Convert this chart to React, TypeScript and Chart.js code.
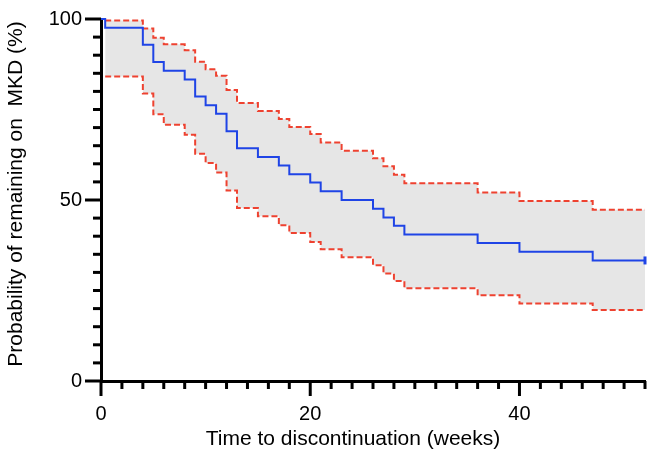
import React, { useEffect, useRef } from "react";
import { Chart, registerables } from "chart.js";

Chart.register(...registerables);

// Kaplan–Meier estimate (time in weeks, survival in %)
const kmTimes = [0, 0.4, 4, 5, 6, 8, 9, 10, 11, 12, 13, 15, 17, 18, 20, 21, 23, 26, 27, 28, 29, 36, 40, 47, 52];
const kmSurvival = [100, 97.6, 92.9, 88.1, 85.7, 83.3, 78.6, 76.2, 73.8, 69.0, 64.3, 61.9, 59.5, 57.1, 54.8, 52.4, 50.0, 47.6, 45.2, 42.9, 40.5, 38.1, 35.7, 33.3, 33.3];

// 95% confidence band
const ciTimes = [0.4, 4, 5, 6, 8, 9, 10, 11, 12, 13, 15, 17, 18, 20, 21, 23, 26, 27, 28, 29, 36, 40, 47, 52];
const ciUpper = [99.6, 97.4, 94.8, 93.0, 91.4, 88.2, 86.1, 84.3, 80.4, 76.8, 74.6, 72.4, 70.2, 68.2, 65.9, 63.6, 61.5, 59.3, 57.0, 54.6, 52.1, 49.7, 47.3, 47.3];
const ciLower = [84.1, 79.4, 73.7, 70.8, 68.0, 62.8, 60.2, 57.6, 52.6, 47.8, 45.5, 43.0, 40.9, 38.4, 36.4, 34.2, 32.0, 29.7, 27.6, 25.6, 23.7, 21.4, 19.6, 19.6];

const xTickLabels = [0, 20, 40];
const yTickLabels = [0, 50, 100];

const X_MIN = 0;
const X_MAX = 52;
const X_MAJOR = 20;
const X_MINOR = 2;
const Y_MIN = 0;
const Y_MAX = 100;
const Y_MAJOR = 50;
const Y_MINOR = 5;

const X_TITLE = "Time to discontinuation (weeks)";
const Y_TITLE = "Probability of remaining on  MKD (%)";

const BLUE = "#1f44e6";
const RED = "#ee4230";
const GREY = "#e6e6e6";
const FONT = "'Liberation Sans', Arial, Helvetica, sans-serif";

const toPts = (xs: number[], ys: number[]) => xs.map((x, i) => ({ x, y: ys[i] }));

const tickPlugin = {
  id: "customTicks",
  afterDraw(chart: any) {
    const { ctx, chartArea } = chart;
    const xs = chart.scales.x;
    const ys = chart.scales.y;
    ctx.save();
    ctx.strokeStyle = "#000";
    ctx.lineWidth = 3;
    ctx.lineCap = "butt";
    for (let v = X_MIN; v <= X_MAX + 1e-9; v += X_MINOR) {
      const px = xs.getPixelForValue(v);
      const len = v % X_MAJOR === 0 ? 15 : 8;
      ctx.beginPath();
      ctx.moveTo(px, chartArea.bottom);
      ctx.lineTo(px, chartArea.bottom + len);
      ctx.stroke();
    }
    for (let v = Y_MIN; v <= Y_MAX + 1e-9; v += Y_MINOR) {
      const py = ys.getPixelForValue(v);
      const len = v % Y_MAJOR === 0 ? 16 : 8;
      ctx.beginPath();
      ctx.moveTo(chartArea.left, py);
      ctx.lineTo(chartArea.left - len, py);
      ctx.stroke();
    }
    // axis titles
    ctx.fillStyle = "#000";
    ctx.font = `21px ${FONT}`;
    ctx.textAlign = "center";
    ctx.textBaseline = "middle";
    const cx = (chartArea.left + chartArea.right) / 2 - 20;
    ctx.fillText(X_TITLE, cx, 439);
    const cy = (chartArea.top + chartArea.bottom) / 2 - 6;
    ctx.translate(16, cy);
    ctx.rotate(-Math.PI / 2);
    ctx.fillText(Y_TITLE, 0, 0);
    ctx.restore();
  },
};

export default function App() {
  const ref = useRef<HTMLCanvasElement | null>(null);

  useEffect(() => {
    if (!ref.current) return;
    const lastIdx = kmTimes.length - 1;
    const chart = new Chart(ref.current, {
      type: "line",
      data: {
        datasets: [
          {
            label: "KM",
            data: toPts(kmTimes, kmSurvival),
            borderColor: BLUE,
            borderWidth: 2,
            stepped: true,
            fill: false,
            pointStyle: "line",
            rotation: 90,
            pointRadius: (c: any) => (c.dataIndex === lastIdx ? 4 : 0),
            pointBorderWidth: 3,
            pointBorderColor: BLUE,
            clip: 6,
          } as any,
          {
            label: "Upper",
            data: toPts(ciTimes, ciUpper),
            borderColor: RED,
            borderWidth: 2,
            borderDash: [6, 3],
            stepped: true,
            pointRadius: 0,
            fill: "+1",
            backgroundColor: GREY,
            clip: 6,
          } as any,
          {
            label: "Lower",
            data: toPts(ciTimes, ciLower),
            borderColor: RED,
            borderWidth: 2,
            borderDash: [6, 3],
            stepped: true,
            pointRadius: 0,
            fill: false,
            clip: 6,
          } as any,
        ],
      },
      options: {
        animation: false,
        responsive: false,
        layout: { autoPadding: false, padding: { top: 19, right: 3, left: 0, bottom: 0 } },
        plugins: {
          legend: { display: false },
          tooltip: { enabled: false },
          filler: { drawTime: "beforeDatasetsDraw" },
        } as any,
        scales: {
          x: {
            type: "linear",
            min: X_MIN,
            max: X_MAX,
            afterBuildTicks: (s: any) => {
              s.ticks = xTickLabels.map((v) => ({ value: v }));
            },
            afterFit: (s: any) => {
              s.height = 469 - 19 - 362;
              s.paddingRight = 0;
              s.paddingLeft = 0;
            },
            grid: { display: false },
            border: { display: true, color: "#000", width: 3 },
            ticks: {
              padding: 13,
              color: "#000",
              font: { family: FONT, size: 20 },
              maxRotation: 0,
              autoSkip: false,
            },
            title: { display: false },
          },
          y: {
            type: "linear",
            min: Y_MIN,
            max: Y_MAX,
            afterBuildTicks: (s: any) => {
              s.ticks = yTickLabels.map((v) => ({ value: v }));
            },
            afterFit: (s: any) => {
              s.width = 101;
              s.paddingTop = 0;
              s.paddingBottom = 0;
            },
            grid: { display: false },
            border: { display: true, color: "#000", width: 3 },
            ticks: {
              padding: 11,
              color: "#000",
              font: { family: FONT, size: 20 },
              autoSkip: false,
            },
            title: { display: false },
          },
        },
      } as any,
      plugins: [tickPlugin],
    });
    return () => chart.destroy();
  }, []);

  return (
    <div style={{ position: "absolute", left: 0, top: 0, width: 648, height: 469, background: "#fff" }}>
      <canvas ref={ref} width={648} height={469} style={{ width: 648, height: 469 }} />
    </div>
  );
}
